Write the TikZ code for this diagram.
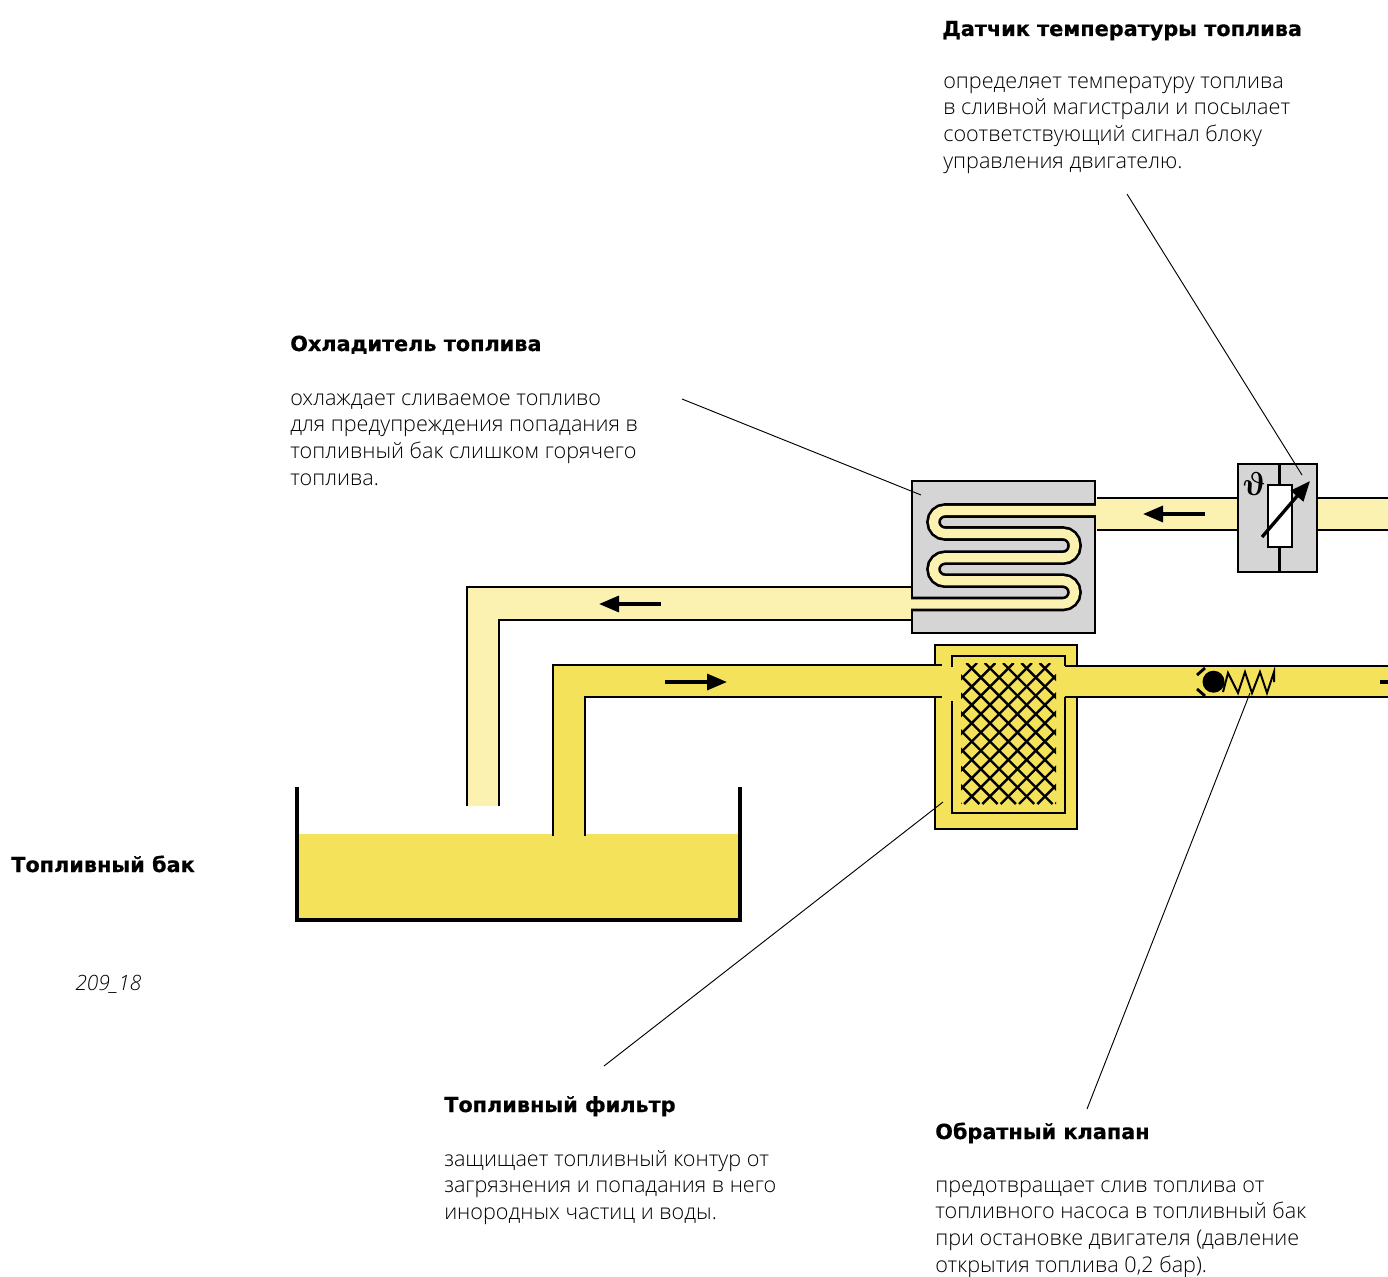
\documentclass[tikz,border=0pt]{standalone}
\usepackage{amsmath}
\usepackage{fontspec}
\usetikzlibrary{arrows.meta}
\setmainfont{Open Sans Light}[ItalicFont={Open Sans Light Italic}]
\newfontfamily\titlefont{DejaVu Sans}[BoldFeatures={FakeBold=0.5}]
\definecolor{fuelhot}{HTML}{FBF1B0}
\definecolor{fuel}{HTML}{F4E35A}
\definecolor{bodygray}{HTML}{D5D5D5}
\tikzset{
  wall/.style={draw=black,line width=2.15pt},
  thinwall/.style={draw=black,line width=1.8pt},
  tank/.style={draw=black,line width=2.7pt},
  leader/.style={draw=black,line width=0.7pt},
  bigtip/.style={-{Triangle[length=15pt,width=12pt]}},
  flow/.style={draw=black,line width=2.5pt,bigtip},
  headline/.style={anchor=base west,inner sep=0pt,font=\titlefont\bfseries\fontsize{15.6}{20}\selectfont},
  bodytext/.style={anchor=north west,inner sep=0pt,align=left,font=\fontsize{16.2}{20}\selectfont},
  tag/.style={anchor=base west,inner sep=0pt,font=\itshape\fontsize{15.8}{20}\selectfont},
}
\begin{document}
\begin{tikzpicture}[x=0.75pt,y=-0.75pt]
\useasboundingbox (0,0) rectangle (1388,1277);
\fill[white] (0,0) rectangle (1388,1277);

% tank
\fill[fuel] (297,834) rectangle (740,920);
\draw[tank] (297,787) -- (297,920) -- (740,920) -- (740,787);

% filter body
\fill[fuel] (935,645) rectangle (1077,829);

% dark fuel pipes
\fill[fuel] (553,836) -- (553,665) -- (960,665) -- (960,697) -- (585,697) -- (585,836) -- cycle;
\fill[fuel] (1050,665) rectangle (1388,697);
\draw[wall] (553,836) -- (553,665) -- (942,665);
\draw[wall] (585,836) -- (585,697) -- (942,697);
\draw[wall] (1065,666) -- (1388,666);
\draw[wall] (1065,697) -- (1388,697);

% filter walls
\draw[wall] (935,666) -- (935,645) -- (1077,645) -- (1077,666);
\draw[wall] (935,697) -- (935,829) -- (1077,829) -- (1077,697);
\draw[wall] (952,667) -- (952,656) -- (1065,656) -- (1065,666);
\draw[wall] (952,701) -- (952,813) -- (1065,813) -- (1065,697);
\begin{scope}
  \clip (961,663) rectangle (1056,804);
  \foreach \k in {-1,...,12}{
    \pgfmathsetmacro{\s}{1640+18.3*\k}
    \draw[thinwall] ({\s-663},663) -- ({\s-804},804);
  }
  \foreach \m in {-8,...,5}{
    \pgfmathsetmacro{\d}{303.4+18.3*\m}
    \draw[thinwall] ({\d+663},663) -- ({\d+804},804);
  }
\end{scope}

% return pipes
\fill[fuelhot] (467,806) -- (467,587) -- (914,587) -- (914,620) -- (499,620) -- (499,806) -- cycle;
\draw[wall] (467,806) -- (467,587) -- (912,587);
\draw[wall] (499,806) -- (499,620) -- (912,620);
\fill[fuelhot] (1096,498) rectangle (1240,530);
\fill[fuelhot] (1316,498) rectangle (1388,530);
\draw[wall] (1097,498) -- (1238,498);
\draw[wall] (1097,530) -- (1238,530);
\draw[wall] (1317,498) -- (1388,498);
\draw[wall] (1317,530) -- (1388,530);

% cooler
\draw[thinwall,fill=bodygray] (912,481) rectangle (1095,633);
\draw[draw=black,line width=10.9pt,rounded corners=8.6pt]
  (912,604) -- (1074.5,604) -- (1074.5,580.7) -- (933.5,580.7) -- (933.5,557.7)
  -- (1074.5,557.7) -- (1074.5,533.5) -- (933.5,533.5) -- (933.5,510.5) -- (1095,510.5);
\draw[draw=fuelhot,line width=6.9pt,rounded corners=8.6pt]
  (910,604) -- (1074.5,604) -- (1074.5,580.7) -- (933.5,580.7) -- (933.5,557.7)
  -- (1074.5,557.7) -- (1074.5,533.5) -- (933.5,533.5) -- (933.5,510.5) -- (1098,510.5);

% temperature sensor
\draw[thinwall,fill=bodygray] (1238,464) rectangle (1317,572);
\draw[wall] (1279.5,464) -- (1279.5,572);
\draw[thinwall,fill=white] (1268,485) rectangle (1292,547);
\draw[draw=black,line width=2.5pt,bigtip] (1262,537) -- (1310,481);
\node[inner sep=0pt,xslant=-0.18,transform shape] (theta) at (1254,484) {\fontsize{25}{25}\selectfont$\boldsymbol{\vartheta}$};

% flow arrows
\draw[flow] (1205,514) -- (1143,514);
\draw[flow] (661,604) -- (599,604);
\draw[flow] (665,682) -- (727,682);
\draw[draw=black,line width=2.5pt] (1380,682) -- (1388,682);

% check valve
\fill[black] (1213.5,681.7) circle (11);
\draw[wall] (1197,675) -- (1205,668);
\draw[wall] (1197,689) -- (1205,696);
\draw[draw=black,line width=1.5pt,line join=miter]
  (1223,692) -- (1228,673) -- (1238,693) -- (1245,672) -- (1252,693) -- (1260,672) -- (1267,693) -- (1274,672) -- (1274,682);

% texts
\node[headline] (sensorT) at (942,36) {Датчик температуры топлива};
\node[bodytext] (sensorB) at (943,69.3) {\strut определяет температуру топлива\\в сливной магистрали и посылает\\соответствующий сигнал блоку\\управления двигателю.};
\node[headline] (coolerT) at (290,351) {Охладитель топлива};
\node[bodytext] (coolerB) at (290,386.3) {\strut охлаждает сливаемое топливо\\для предупреждения попадания в\\топливный бак слишком горячего\\топлива.};
\node[headline] (tankT) at (11,872) {Топливный бак};
\node[tag] (figtag) at (75,990) {209\_18};
\node[headline] (filterT) at (444,1112) {Топливный фильтр};
\node[bodytext] (filterB) at (444,1147.3) {\strut защищает топливный контур от\\загрязнения и попадания в него\\инородных частиц и воды.};
\node[headline] (valveT) at (935,1139) {Обратный клапан};
\node[bodytext] (valveB) at (935,1173.3) {\strut предотвращает слив топлива от\\топливного насоса в топливный бак\\при остановке двигателя (давление\\открытия топлива 0,2 бар).};

% leaders
\coordinate (a1) at (682,399);  \coordinate (a2) at (921,495);
\coordinate (b1) at (1127,194); \coordinate (b2) at (1302,475);
\coordinate (c1) at (604,1066); \coordinate (c2) at (943,802);
\coordinate (d1) at (1087,1109);\coordinate (d2) at (1250,693);
\draw[leader] (a1) -- (a2);
\draw[leader] (b1) -- (b2);
\draw[leader] (c1) -- (c2);
\draw[leader] (d1) -- (d2);
\end{tikzpicture}
\end{document}
